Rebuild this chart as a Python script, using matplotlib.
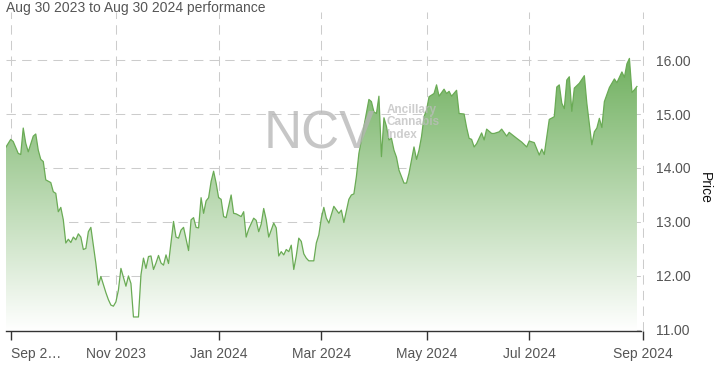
import numpy as np
import pandas as pd
import matplotlib
matplotlib.use("Agg")
import matplotlib.pyplot as plt
from matplotlib.patches import PathPatch

plt.rcParams['font.family'] = ['Liberation Sans', 'DejaVu Sans']

# trading calendar (x axis is ordinal: one step per trading session)
start_date = "2023-08-30"
end_date = "2024-08-30"
holidays = ["2023-09-04", "2023-11-23", "2023-12-25", "2024-01-01", "2024-01-15",
            "2024-02-19", "2024-03-29", "2024-05-27", "2024-06-19", "2024-07-04"]

# session number (0 = Aug 30 2023) and closing price
session = [0, 2, 3, 5, 6, 7, 8, 9, 11, 12, 13, 14, 15, 16, 18, 19, 20, 21, 22, 23,
           24, 25, 26, 27, 28, 29, 30, 31, 32, 33, 34, 35, 36, 37, 38, 40, 41, 42, 43, 44,
           45, 46, 48, 49, 50, 51, 52, 53, 54, 55, 56, 57, 58, 59, 60, 61, 62, 63, 64, 65,
           67, 68, 69, 70, 71, 73, 74, 75, 76, 77, 78, 79, 80, 81, 82, 83, 84, 85, 86, 87,
           88, 90, 91, 92, 94, 95, 96, 97, 99, 100, 101, 102, 103, 104, 105, 107, 108, 109, 110, 111,
           112, 113, 114, 115, 116, 117, 118, 119, 120, 121, 123, 124, 125, 126, 127, 128, 129, 131, 133, 134,
           135, 137, 138, 139, 140, 141, 143, 144, 145, 146, 147, 148, 149, 150, 151, 152, 153, 154, 155, 156,
           157, 159, 160, 161, 162, 163, 164, 165, 166, 167, 168, 169, 171, 172, 173, 175, 176, 177, 178, 180,
           181, 183, 184, 185, 186, 187, 188, 190, 191, 192, 194, 195, 197, 198, 200, 201, 204, 206, 208, 209,
           211, 213, 214, 215, 216, 217, 219, 220, 221, 222, 223, 224, 225, 226, 227, 229, 231, 232, 234, 235,
           236, 237, 238, 239, 241, 243, 244, 246, 247, 248, 249, 250, 251, 252]
price = [14.38, 14.53, 14.49, 14.27, 14.25, 14.74, 14.46, 14.30, 14.59, 14.63, 14.33, 14.16, 14.12, 13.78, 13.73, 13.56, 13.53, 13.19, 13.27, 13.04,
         12.61, 12.68, 12.62, 12.72, 12.67, 12.78, 12.72, 12.49, 12.51, 12.82, 12.90, 12.57, 12.23, 11.83, 11.99, 11.69, 11.56, 11.46, 11.44, 11.52,
         11.74, 12.14, 11.81, 12.00, 11.86, 11.24, 11.24, 11.24, 12.02, 12.33, 12.14, 12.36, 12.37, 12.12, 12.24, 12.38, 12.24, 12.20, 12.39, 12.23,
         13.01, 12.72, 12.70, 12.85, 12.90, 12.47, 13.04, 13.08, 12.90, 12.89, 13.45, 13.16, 13.39, 13.45, 13.75, 13.94, 13.72, 13.45, 13.42, 13.10,
         13.08, 13.50, 13.16, 13.15, 13.10, 13.19, 12.72, 12.87, 13.07, 13.03, 12.82, 12.96, 13.25, 13.04, 12.72, 12.98, 12.89, 12.37, 12.45, 12.39,
         12.49, 12.45, 12.57, 12.12, 12.37, 12.70, 12.64, 12.41, 12.33, 12.28, 12.28, 12.61, 12.76, 13.07, 13.27, 13.07, 12.98, 13.29, 13.16, 13.22,
         12.99, 13.42, 13.50, 13.52, 13.84, 14.27, 14.77, 15.02, 15.27, 15.23, 15.04, 15.01, 15.33, 14.21, 14.93, 14.77, 14.52, 14.55, 14.33, 14.20,
         13.96, 13.72, 13.72, 13.90, 14.15, 14.39, 14.16, 14.33, 14.58, 14.95, 15.07, 15.32, 15.38, 15.54, 15.33, 15.46, 15.38, 15.42, 15.33, 15.44,
         15.01, 15.00, 14.75, 14.55, 14.53, 14.39, 14.45, 14.65, 14.52, 14.72, 14.64, 14.64, 14.67, 14.72, 14.59, 14.66, 14.55, 14.48, 14.39, 14.50,
         14.47, 14.24, 14.35, 14.25, 14.58, 14.90, 14.95, 15.50, 15.54, 15.20, 15.10, 15.63, 15.69, 15.05, 15.48, 15.57, 15.71, 15.20, 14.43, 14.67,
         14.74, 14.92, 14.75, 15.23, 15.49, 15.65, 15.58, 15.78, 15.68, 15.93, 16.03, 15.40, 15.45, 15.51]

month_ticks = ["2023-09-01", "2023-11-01", "2024-01-01", "2024-03-01", "2024-05-01", "2024-07-01", "2024-09-01"]
month_labels = ["Sep 2\u2026", "Nov 2023", "Jan 2024", "Mar 2024", "May 2024", "Jul 2024", "Sep 2024"]
price_ticks = [11, 12, 13, 14, 15, 16]

sessions = pd.bdate_range(start_date, end_date)
sessions = sessions[~sessions.isin(pd.to_datetime(holidays))]
tick_pos = np.searchsorted(sessions.values, pd.to_datetime(month_ticks).values).astype(float)
tick_pos[-1] += 1.4  # Sep 1 2024 falls past the last session

fig = plt.figure(figsize=(7.15, 3.66), dpi=100)
ax = fig.add_axes([5.7 / 715, 35 / 366, 638 / 715, 319 / 366])
x0, x1 = 0, 254.7
y0, y1 = 10.98, 16.89

# gradient fill under the line
top = np.array([88, 163, 68]) / 255.0
f = np.linspace(0, 1, 256)[:, None]
rgb = (1 - f) * np.ones(3) + f * top
rgba = np.dstack([rgb[:, None, :], np.ones((256, 1, 1))]).reshape(256, 1, 4)
im = ax.imshow(rgba, extent=[x0, x1, y0, y1], origin='lower', aspect='auto', zorder=1)
xs = np.concatenate([[session[0]], session, [session[-1]]])
ys = np.concatenate([[y0], price, [y0]])
poly = PathPatch(matplotlib.path.Path(np.column_stack([xs, ys])), facecolor='none',
                 edgecolor='none', transform=ax.transData)
ax.add_patch(poly)
im.set_clip_path(poly)
ax.plot(session, price, color='#6aab55', lw=0.9, zorder=3)

ax.set_xlim(x0, x1)
ax.set_ylim(y0, y1)

ax.set_xticks(tick_pos)
ax.set_xticklabels(month_labels)
ax.get_xticklabels()[0].set_horizontalalignment('left')
ax.set_yticks(price_ticks)
ax.set_yticklabels(["%.2f" % v for v in price_ticks])
ax.yaxis.tick_right()
ax.tick_params(axis='y', length=0, pad=9, labelsize=10, labelcolor='#555555')
ax.tick_params(axis='x', length=6.5, width=1, color='#333333', pad=5, labelsize=10, labelcolor='#555555')
ax.grid(True, color='#cccccc', lw=0.75, linestyle=(0, (9, 6)), zorder=0)
ax.set_axisbelow(True)
for s in ['top', 'left', 'right']:
    ax.spines[s].set_visible(False)
ax.spines['bottom'].set_color('#333333')
ax.spines['bottom'].set_linewidth(1)
ax.spines['bottom'].set_bounds(0, 253.5)

# watermark
ax.text(0.405, 0.615, "NCV", transform=ax.transAxes, fontsize=38, color='#b4b4b4',
        alpha=0.75, ha='left', va='center', zorder=4)
ax.text(0.597, 0.655, "Ancillary\nCannabis\nIndex", transform=ax.transAxes, fontsize=8.5,
        fontweight='bold', color='#bdbdbd', alpha=0.75, ha='left', va='center',
        linespacing=1.05, zorder=4)

fig.text(6 / 715, 1 - 8 / 366, "Aug 30 2023 to Aug 30 2024 performance", fontsize=10,
         color='#555555', ha='left', va='center')
fig.text(705 / 715, 1 - 188 / 366, "Price", fontsize=10, color='#111111', rotation=270,
         ha='center', va='center')

fig.savefig("out.png", dpi=100)
